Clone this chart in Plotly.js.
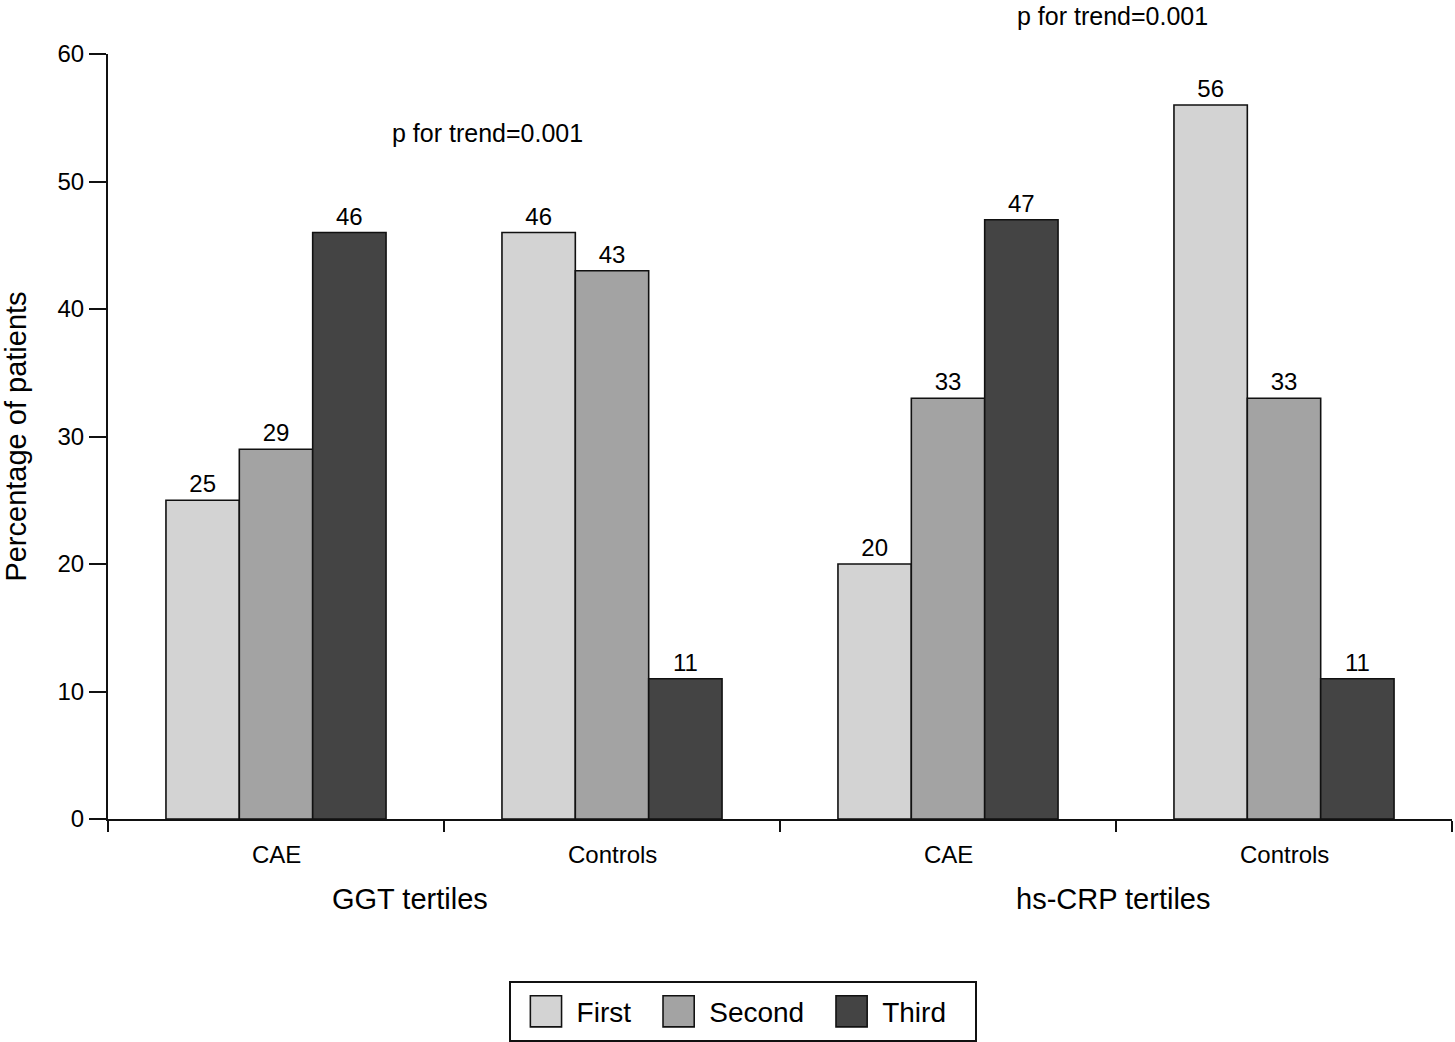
<!DOCTYPE html>
<html>
<head>
<meta charset="utf-8">
<script src="https://cdn.plot.ly/plotly-3.0.1.min.js"></script>
<style>
  html, body { margin: 0; padding: 0; background: #fff; }
  #chart { width: 1455px; height: 1042px; }
</style>
</head>
<body>
<div id="chart"></div>
<script>
// groups: GGT tertiles (CAE, Controls), hs-CRP tertiles (CAE, Controls)
var categories = ['CAE', 'Controls', 'CAE', 'Controls']
var groupNames = ['GGT tertiles', 'hs-CRP tertiles']
var tertiles = ['First', 'Second', 'Third']
var firstVals = [25, 46, 20, 56]
var secondVals = [29, 43, 33, 33]
var thirdVals = [46, 11, 47, 11]
var trendText = ['p for trend=0.001', 'p for trend=0.001']

var colors = ['#d3d3d3', '#a3a3a3', '#444444']
var font = '"Liberation Sans", Arial, Helvetica, sans-serif'

var xs = categories.map(function (c, i) { return i })
var series = [firstVals, secondVals, thirdVals]

var data = series.map(function (vals, k) {
  return {
    type: 'bar',
    name: tertiles[k],
    x: xs,
    y: vals,
    text: vals.map(String),
    textposition: 'outside',
    textfont: { size: 24, color: '#000', family: font },
    cliponaxis: false,
    marker: { color: colors[k], line: { color: '#111', width: 1.6 } },
    hoverinfo: 'skip'
  }
})

var annotations = []
// category labels under each group of bars
categories.forEach(function (c, i) {
  annotations.push({
    text: c, x: i, xref: 'x', y: 0, yref: 'paper',
    yanchor: 'middle', yshift: -35, showarrow: false,
    font: { size: 24, color: '#000', family: font }
  })
})
// big group labels
var groupX = [0.4, 2.49]
groupNames.forEach(function (g, i) {
  annotations.push({
    text: g, x: groupX[i], xref: 'x', y: 0, yref: 'paper',
    yanchor: 'middle', yshift: -80, showarrow: false,
    font: { size: 29, color: '#000', family: font }
  })
})
// p for trend notes (the second one sits above the plot, right at the top edge)
var trendPos = [[0.63, 0.897], [2.49, 1.05]]
trendText.forEach(function (t, i) {
  annotations.push({
    text: t, x: trendPos[i][0], xref: 'x', y: trendPos[i][1], yref: 'paper',
    yanchor: 'middle', showarrow: false,
    font: { size: 25, color: '#000', family: font }
  })
})

var layout = {
  width: 1455,
  height: 1042,
  margin: { l: 108, r: 3, t: 54, b: 223 },
  paper_bgcolor: '#fff',
  plot_bgcolor: '#fff',
  font: { family: font, color: '#000' },
  barmode: 'group',
  bargap: 0.345,
  bargroupgap: 0,
  showlegend: true,
  legend: {
    orientation: 'h',
    xref: 'container', yref: 'container',
    x: 0.3498, xanchor: 'left',
    y: 0.0547, yanchor: 'top',
    bordercolor: '#111', borderwidth: 1.6,
    bgcolor: '#fff',
    font: { size: 28, color: '#000', family: font },
    itemwidth: 56,
    traceorder: 'normal'
  },
  xaxis: {
    range: [-0.5, 3.5],
    tickmode: 'array',
    tickvals: [-0.5, 0.5, 1.5, 2.5, 3.5],
    ticktext: ['', '', '', '', ''],
    ticks: 'outside', ticklen: 11, tickwidth: 2, tickcolor: '#111',
    showline: true, linecolor: '#111', linewidth: 2,
    showgrid: false, zeroline: false, fixedrange: true
  },
  yaxis: {
    range: [0, 60],
    tickmode: 'linear', tick0: 0, dtick: 10,
    ticks: 'outside', ticklen: 17, tickwidth: 2, tickcolor: '#111',
    tickfont: { size: 24, color: '#000', family: font },
    showline: true, linecolor: '#111', linewidth: 2,
    showgrid: false, zeroline: false, fixedrange: true,
    title: { text: 'Percentage of patients', font: { size: 29, color: '#000', family: font }, standoff: 26 }
  },
  annotations: annotations
}

Plotly.newPlot('chart', data, layout, { displayModeBar: false, staticPlot: true }).then(function () {
  // bigger legend swatches, like the print version, sitting 15px left of the text
  document.querySelectorAll('#chart .legendpoints path').forEach(function (p) {
    p.setAttribute('transform', 'translate(35.4,0) scale(2.6)')
    p.style.strokeWidth = '0.6px'
  })
  // spread the entries a little more
  document.querySelectorAll('#chart .legend .traces').forEach(function (g, i) {
    var m = /translate\(([-\d.e]+)[ ,]+([-\d.e]+)\)/.exec(g.getAttribute('transform') || '')
    var tx = m ? parseFloat(m[1]) : 0
    var ty = m ? parseFloat(m[2]) : 0
    g.setAttribute('transform', 'translate(' + (tx + 7 * i) + ',' + ty + ')')
  })
  var sb = document.querySelector('#chart .legend .scrollbox')
  if (sb) sb.removeAttribute('clip-path')
  // a bit more room round the legend entries
  var bg = document.querySelector('#chart .legend rect.bg')
  if (bg) {
    var y = parseFloat(bg.getAttribute('y') || 0)
    var h = parseFloat(bg.getAttribute('height'))
    var w = parseFloat(bg.getAttribute('width'))
    bg.setAttribute('y', y - 4)
    bg.setAttribute('height', h + 8)
    bg.setAttribute('width', w + 38)
  }
})
</script>
</body>
</html>
